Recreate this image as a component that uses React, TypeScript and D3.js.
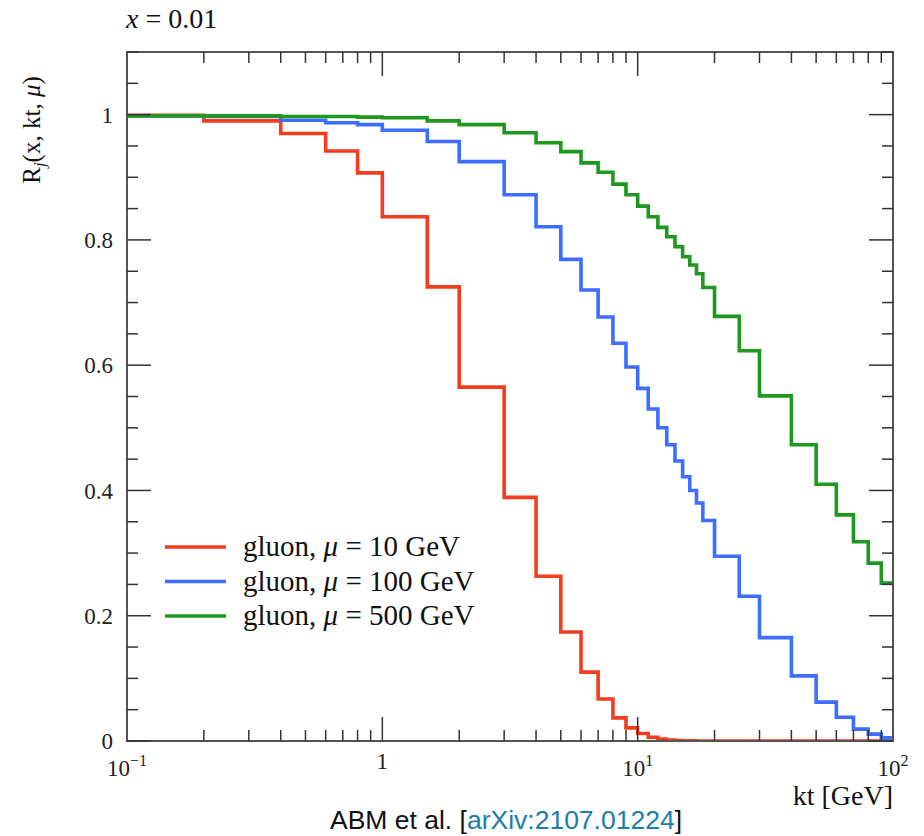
import React, { useRef, useEffect } from 'react';
import * as d3 from 'd3';

// bin edges in kt [GeV] and the ratio in each bin
const edges = [0.1, 0.2, 0.4, 0.6, 0.8, 1, 1.5, 2, 3, 4, 5, 6, 7, 8, 9, 10, 11, 12, 13, 14, 15, 16, 17, 18, 20, 25, 30, 40, 50, 60, 70, 80, 90, 100];

const gluon10 = [0.999, 0.990, 0.970, 0.942, 0.907, 0.837, 0.725, 0.565, 0.389, 0.263, 0.174, 0.110, 0.067, 0.037, 0.021, 0.012, 0.006, 0.003, 0.0015, 0.0008, 0.0004, 0.0002, 0.0001, 0, 0, 0, 0, 0, 0, 0, 0, 0, 0];
const gluon100 = [0.998, 0.997, 0.991, 0.987, 0.984, 0.975, 0.957, 0.925, 0.872, 0.821, 0.769, 0.720, 0.677, 0.635, 0.597, 0.563, 0.530, 0.500, 0.473, 0.447, 0.422, 0.400, 0.380, 0.352, 0.295, 0.231, 0.165, 0.104, 0.062, 0.038, 0.019, 0.011, 0.005];
const gluon500 = [0.998, 0.998, 0.997, 0.997, 0.996, 0.995, 0.990, 0.984, 0.971, 0.955, 0.941, 0.923, 0.908, 0.889, 0.872, 0.854, 0.837, 0.820, 0.805, 0.789, 0.773, 0.760, 0.746, 0.724, 0.678, 0.623, 0.551, 0.473, 0.410, 0.361, 0.318, 0.284, 0.252];

const seriesNames = ['10', '100', '500'];
const seriesColors = ['#f23d1f', '#3d6eff', '#1f981f'];

const yMajor = [0, 0.2, 0.4, 0.6, 0.8, 1];
const yLabels = ['0', '0.2', '0.4', '0.6', '0.8', '1'];
const xMajor = [0.1, 1, 10, 100];
const xExp = ['−1', '', '1', '2'];

const App = () => {
  const svgRef = useRef(null);

  useEffect(() => {
    const svg = d3.select(svgRef.current);
    svg.selectAll('*').remove();

    const margin = { top: 52, right: 31, bottom: 95, left: 127 };
    const W = 924, H = 836;
    const w = W - margin.left - margin.right;
    const h = H - margin.top - margin.bottom;
    const serif = '"Liberation Serif", "Times New Roman", serif';

    const x = d3.scaleLog().domain([0.1, 100]).range([0, w]);
    const y = d3.scaleLinear().domain([0, 1.1]).range([h, 0]);

    const g = svg.append('g').attr('transform', `translate(${margin.left},${margin.top})`);

    g.append('clipPath').attr('id', 'plot-clip')
      .append('rect').attr('x', 0).attr('y', -4).attr('width', w).attr('height', h + 4);

    // step lines
    const line = d3.line().x(d => x(d[0])).y(d => y(d[1])).curve(d3.curveStepAfter);
    [gluon10, gluon100, gluon500].forEach((vals, si) => {
      const pts = vals.map((v, i) => [edges[i], v]);
      pts.push([edges[edges.length - 1], vals[vals.length - 1]]);
      g.append('path')
        .datum(pts)
        .attr('clip-path', 'url(#plot-clip)')
        .attr('fill', 'none')
        .attr('stroke', seriesColors[si])
        .attr('stroke-width', 3.6)
        .attr('d', line);
    });

    // frame
    g.append('rect').attr('width', w).attr('height', h)
      .attr('fill', 'none').attr('stroke', '#555').attr('stroke-width', 2);

    const tickCol = '#333';
    const majLen = 24, minLen = 11;

    // x ticks (bottom and top, pointing inwards)
    const xMinor = [];
    [0.1, 1, 10].forEach(dec => { for (let k = 2; k <= 9; k++) xMinor.push(dec * k); });
    const xt = g.append('g').attr('stroke', tickCol).attr('stroke-width', 1.5);
    xMinor.forEach(v => {
      xt.append('line').attr('x1', x(v)).attr('x2', x(v)).attr('y1', h).attr('y2', h - minLen);
      xt.append('line').attr('x1', x(v)).attr('x2', x(v)).attr('y1', 0).attr('y2', minLen);
    });
    [1, 10].forEach(v => {
      xt.append('line').attr('x1', x(v)).attr('x2', x(v)).attr('y1', h).attr('y2', h - majLen);
      xt.append('line').attr('x1', x(v)).attr('x2', x(v)).attr('y1', 0).attr('y2', majLen);
    });

    // y ticks (left and right)
    const yt = g.append('g').attr('stroke', tickCol).attr('stroke-width', 1.5);
    d3.range(0, 1.1001, 0.05).forEach(v => {
      const isMajor = Math.abs(v * 5 - Math.round(v * 5)) < 1e-6;
      const len = isMajor ? majLen : minLen;
      yt.append('line').attr('x1', 0).attr('x2', len).attr('y1', y(v)).attr('y2', y(v));
      yt.append('line').attr('x1', w).attr('x2', w - len).attr('y1', y(v)).attr('y2', y(v));
    });

    // y tick labels
    yMajor.forEach((v, i) => {
      g.append('text')
        .attr('x', -14).attr('y', y(v)).attr('dy', '0.35em')
        .attr('text-anchor', 'end')
        .attr('font-family', serif).attr('font-size', 23).attr('fill', '#222')
        .text(yLabels[i]);
    });

    // x tick labels
    xMajor.forEach((v, i) => {
      const t = g.append('text')
        .attr('x', x(v)).attr('y', xExp[i] ? h + 35 : h + 28)
        .attr('text-anchor', 'middle')
        .attr('font-family', serif).attr('font-size', 23).attr('fill', '#222');
      if (xExp[i]) {
        t.append('tspan').text('10');
        t.append('tspan').attr('dy', -10).attr('font-size', 16).text(xExp[i]);
      } else {
        t.text('1');
      }
    });

    // x axis title
    g.append('text')
      .attr('x', w).attr('y', h + 64).attr('text-anchor', 'end')
      .attr('font-family', serif).attr('font-size', 28).attr('fill', '#111')
      .text('kt [GeV]');

    // y axis title
    const yl = svg.append('text')
      .attr('transform', 'translate(40,130) rotate(-90)')
      .attr('text-anchor', 'middle')
      .attr('font-family', serif).attr('font-size', 25).attr('fill', '#111');
    yl.append('tspan').text('R');
    yl.append('tspan').attr('dy', 5).attr('font-size', 17).attr('font-style', 'italic').text('j');
    yl.append('tspan').attr('dy', -5).text('(x, kt, ');
    yl.append('tspan').attr('font-style', 'italic').text('μ');
    yl.append('tspan').text(')');

    // panel title
    const tt = svg.append('text')
      .attr('x', 126).attr('y', 28)
      .attr('font-family', serif).attr('font-size', 28).attr('fill', '#111');
    tt.append('tspan').attr('font-style', 'italic').text('x');
    tt.append('tspan').text(' = 0.01');

    // legend
    const lg = g.append('g').attr('transform', `translate(${165 - margin.left},${547 - margin.top})`);
    seriesNames.forEach((name, i) => {
      const row = lg.append('g').attr('transform', `translate(0,${i * 34.5})`);
      row.append('line').attr('x1', 0).attr('x2', 61).attr('y1', 0).attr('y2', 0)
        .attr('stroke', seriesColors[i]).attr('stroke-width', 3.6);
      const txt = row.append('text').attr('x', 78).attr('y', 0).attr('dy', '0.32em')
        .attr('font-family', serif).attr('font-size', 29).attr('fill', '#111');
      txt.append('tspan').text('gluon, ');
      txt.append('tspan').attr('font-style', 'italic').text('μ');
      txt.append('tspan').text(` = ${name} GeV`);
    });

    // source caption
    const cap = svg.append('text')
      .attr('x', 506).attr('y', 829).attr('text-anchor', 'middle')
      .attr('font-family', '"Liberation Sans", Arial, sans-serif').attr('font-size', 26.5).attr('fill', '#111');
    cap.append('tspan').text('ABM et al. [');
    cap.append('tspan').attr('fill', '#1a7ea6').text('arXiv:2107.01224');
    cap.append('tspan').text(']');
  }, []);

  return (
    <svg ref={svgRef} width={924} height={836}
      style={{ position: 'absolute', left: 0, top: 0, background: '#fff' }} />
  );
};

export default App;
